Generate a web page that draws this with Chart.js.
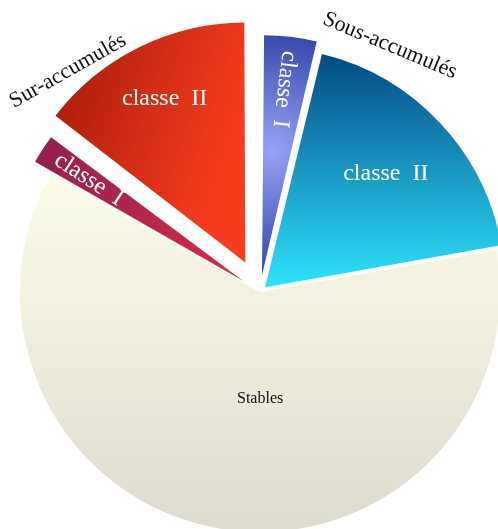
<!DOCTYPE html>
<html>
<head>
<meta charset="utf-8">
<script src="https://cdn.jsdelivr.net/npm/chart.js@4"></script>
<style>
  body { margin: 0; background: #fff; }
  #wrap { width: 498px; height: 529px; }
</style>
</head>
<body>
<div id="wrap"><canvas id="canvas"></canvas></div>
<script>
var slices = ['Sous-accumulés classe I', 'Sous-accumulés classe II', 'Stables', 'Sur-accumulés classe I', 'Sur-accumulés classe II'];
var sliceLabels = ['classe  I', 'classe  II', 'Stables', 'classe  I', 'classe  II'];
var shares = [3.8, 18.4, 60.9, 2.3, 14.6];
var groups = ['Sous-accumulés', 'Sur-accumulés'];

// look
var RADIUS = 240;
var explode = [68, 28, 0, 80, 132];          // chart.js moves a slice by offset / 4
var fills = [['#98a3f4', '#3446ab'], ['#03427f', '#2de0f8'], ['#fdfdea', '#dedbcf'], ['#8c1f50', '#d42b46'], ['#a61b0a', '#f73c1f']];
var labelDist = [0.78, 0.69, 0.445, 0.77, 0.76];
var labelTurn = [0, 0, -9.6, 0, 0];          // degrees
var labelRadial = [true, false, false, true, false];
var labelSize = [24, 24, 16, 24, 24];
var labelColor = ['#fff', '#fff', '#111', '#fff', '#fff'];
var groupAngle = [27.8, 319];                 // clockwise from top
var groupDist = [1.16, 1.22];
var groupRot = [22.6, -29.5];
var FONT = '"Liberation Serif", "DejaVu Serif", serif';

function polar(x, y, a, r) {
    return [x + Math.cos(a) * r, y + Math.sin(a) * r];
}

function frame(chart, i) {
    var area = chart.chartArea;
    var cx = (area.left + area.right) / 2, cy = (area.top + area.bottom) / 2;
    var total = shares.reduce(function(s, v) { return s + v; }, 0);
    var before = shares.slice(0, i).reduce(function(s, v) { return s + v; }, 0);
    var a0 = -Math.PI / 2 + before / total * 2 * Math.PI;
    var a1 = a0 + shares[i] / total * 2 * Math.PI;
    var h = (a0 + a1) / 2;
    var p = polar(cx, cy, h, explode[i] / 4);
    return {x: p[0], y: p[1], a0: a0, a1: a1, h: h};
}

function sliceFill(c) {
    if (c.type !== 'data' || !c.chart.chartArea) return '#ccc';
    var i = c.dataIndex;
    var ctx = c.chart.ctx;
    var f = frame(c.chart, i);
    var g, p, q;
    if (i === 0) {
        p = polar(f.x, f.y, f.a0 + 0.3 * (f.a1 - f.a0), 0.45 * RADIUS);
        g = ctx.createRadialGradient(p[0], p[1], 0, p[0], p[1], 0.5 * RADIUS);
    } else if (i === 1) {
        g = ctx.createLinearGradient(f.x, f.y - RADIUS, f.x, f.y);
    } else if (i === 2) {
        g = ctx.createLinearGradient(f.x, f.y - 0.55 * RADIUS, f.x, f.y + RADIUS);
    } else if (i === 3) {
        p = polar(f.x, f.y, f.h, RADIUS);
        g = ctx.createLinearGradient(p[0], p[1], f.x, f.y);
    } else {
        p = polar(f.x, f.y, f.a0, RADIUS);
        q = polar(f.x, f.y, f.a1, 0.35 * RADIUS);
        g = ctx.createLinearGradient(p[0], p[1], q[0], q[1]);
    }
    g.addColorStop(0, fills[i][0]);
    g.addColorStop(1, fills[i][1]);
    return g;
}

// keep every slice at the same radius, whatever its offset
var evenRadius = {
    id: 'evenRadius',
    afterDatasetUpdate: function(chart, args) {
        args.meta.data.forEach(function(arc, i) {
            var circ = arc.endAngle - arc.startAngle;
            var fix = 1 - Math.sin(Math.min(Math.PI, circ));
            arc.outerRadius = RADIUS - explode[i] / 4 * fix;
        });
    }
};

var sliceText = {
    id: 'sliceText',
    afterDatasetsDraw: function(chart) {
        var ctx = chart.ctx;
        var arcs = chart.getDatasetMeta(0).data;
        ctx.save();
        ctx.textAlign = 'center';
        ctx.textBaseline = 'middle';
        arcs.forEach(function(arc, i) {
            var h = (arc.startAngle + arc.endAngle) / 2;
            var apex = polar(arc.x, arc.y, h, explode[i] / 4);
            var p = polar(apex[0], apex[1], h + labelTurn[i] * Math.PI / 180, labelDist[i] * RADIUS);
            ctx.save();
            ctx.translate(p[0], p[1]);
            if (labelRadial[i]) ctx.rotate(h + Math.PI);
            ctx.font = labelSize[i] + 'px ' + FONT;
            ctx.fillStyle = labelColor[i];
            ctx.fillText(sliceLabels[i], 0, 0);
            ctx.restore();
        });
        groups.forEach(function(name, k) {
            var a = (groupAngle[k] - 90) * Math.PI / 180;
            var p = polar(arcs[0].x, arcs[0].y, a, groupDist[k] * RADIUS);
            ctx.save();
            ctx.translate(p[0], p[1]);
            ctx.rotate(groupRot[k] * Math.PI / 180);
            ctx.font = '22px ' + FONT;
            ctx.fillStyle = '#111';
            ctx.fillText(name, 0, 0);
            ctx.restore();
        });
        ctx.restore();
    }
};

window.onload = function() {
    var ctx = document.getElementById('canvas').getContext('2d');
    window.myPie = new Chart(ctx, {
        type: 'pie',
        data: {
            labels: slices,
            datasets: [{
                data: shares,
                backgroundColor: sliceFill,
                borderWidth: 0,
                offset: explode,
                clip: false
            }]
        },
        options: {
            responsive: true,
            maintainAspectRatio: false,
            animation: false,
            events: [],
            radius: RADIUS,
            layout: {
                padding: {left: 22, right: 0, top: 55, bottom: 0}
            },
            plugins: {
                legend: {display: false},
                tooltip: {enabled: false}
            }
        },
        plugins: [evenRadius, sliceText]
    });
};
</script>
</body>
</html>
